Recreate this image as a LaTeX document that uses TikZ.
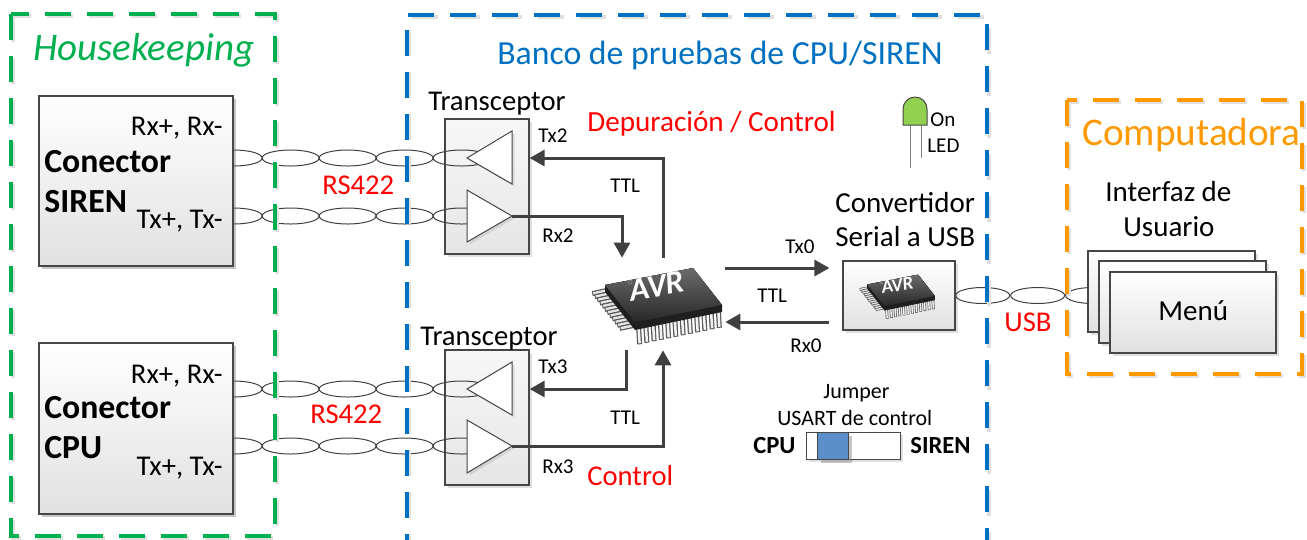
\documentclass[tikz,border=0pt]{standalone}
\usepackage{fontspec}
\setmainfont{Carlito}
\usetikzlibrary{arrows.meta,fit,shadows}

\definecolor{hkgreen}{RGB}{0,176,80}
\definecolor{benchblue}{RGB}{0,112,192}
\definecolor{pcorange}{RGB}{255,153,0}
\definecolor{wire}{RGB}{64,64,64}
\definecolor{edgegray}{RGB}{70,70,70}
\definecolor{sliderblue}{RGB}{91,143,201}
\definecolor{ledgreen}{RGB}{146,208,80}
\definecolor{signalred}{RGB}{255,0,0}

\newcommand\fs[1]{\fontsize{#1}{#1}\selectfont}

% AVR package drawn around (0,0); #1 outer pin width, #2 inner pin width
\newcommand\avrpackage[2]{%
  \foreach \i in {0,...,11}{
    \pgfmathsetmacro\t{(\i+0.5)/12}
    \draw[black!65, line width=#1] ({-25+87*\t},{24-18*\t}) -- ++(1,17);
    \draw[black!5, line width=#2] ({-25+87*\t},{25-18*\t}) -- ++(1,15);
    \draw[black!65, line width=#1] ({-55+30*\t},{-15+38*\t}) -- ++(-14,3);
    \draw[black!10, line width=#2] ({-55+30*\t},{-15+38*\t}) -- ++(-13,2.8);
  }
  \fill[black!88] (-55,-19) -- (33,-36) -- (62,1) -- (62,8) -- (-25,26) -- (-55,-12) -- cycle;
  \fill[top color=black!58, bottom color=black!85] (-55,-19) -- (33,-36) -- (62,1) -- (-25,19) -- cycle;
  \draw[black!45, line width=0.01cm] (-30,-22) circle[radius=0.04cm];
  \node[text=white, font=\bfseries\itshape\fs{18.5}, rotate=10, transform shape, inner sep=0] at (-3,-18) {AVR};
}

\tikzset{
  x=0.02cm, y=-0.02cm,
  frame/.style={line width=0.07cm, dash pattern=on 0.52cm off 0.32cm},
  panel/.style={draw=edgegray, line width=0.025cm, top color=white, bottom color=black!12, inner sep=0pt,
    drop shadow={shadow xshift=0.05cm, shadow yshift=-0.05cm, opacity=0.25}},
  xcvrbox/.style={panel, top color=black!3, bottom color=black!10},
  buffer/.style={draw=edgegray, line width=0.02cm, fill=white,
    drop shadow={shadow xshift=0.05cm, shadow yshift=-0.05cm, opacity=0.2}},
  cable/.style={draw=wire, line width=0.02cm},
  sig/.style={draw=wire, line width=0.06cm, -{Triangle[length=0.3cm,width=0.32cm]}},
  lbl/.style={inner sep=0pt, anchor=base west},
  small/.style={lbl, font=\fs{12}},
  mid/.style={lbl, font=\fs{16.3}},
}

\begin{document}
\begin{tikzpicture}
\useasboundingbox (0,0) rectangle (1307,539);
\clip (0,0) rectangle (1307,539);

% transceiver boxes
\node[xcvrbox, fit={(445,119) (529,254)}] (xcvrA) {};
\node[xcvrbox, fit={(445,350) (529,485)}] (xcvrB) {};

% buffer tips
\coordinate (txA-tip) at (467,158);
\coordinate (rxA-tip) at (512,216);
\coordinate (txB-tip) at (467,389);
\coordinate (rxB-tip) at (512,446);

% connector and converter boxes
\node[panel, fit={(39,96) (233,266)}] (sirenbox) {};
\node[panel, fit={(39,343) (233,514)}] (cpubox) {};
\node[panel, fit={(843,261) (955,330)}] (conv) {};

% twisted pairs (RS422)
\coordinate (cabA) at (sirenbox.east |- txA-tip);
\coordinate (cabB) at (sirenbox.east |- rxA-tip);
\coordinate (cabC) at (cpubox.east |- txB-tip);
\coordinate (cabD) at (cpubox.east |- rxB-tip);
\begin{scope}
  \clip (233,0) rectangle (530,539);
  \foreach \c in {cabA,cabB,cabC,cabD}
    \foreach \k in {0,...,4}
      \draw[cable] ([xshift=\k*1.14cm]\c) ellipse [x radius=0.57cm, y radius=0.16cm];
\end{scope}

% USB cable
\coordinate (cabU) at ([xshift=0.54cm]conv.east);
\foreach \k in {0,...,2}
  \draw[cable] ([xshift=\k*1.1cm]cabU) ellipse [x radius=0.54cm, y radius=0.16cm];

% redraw boxes over the cable ends
\node[panel, fit={(39,96) (233,266)}] {};
\node[panel, fit={(39,343) (233,514)}] {};

% line drivers and receivers
\filldraw[buffer] (512,131) -- (txA-tip) -- (512,184) -- cycle;
\filldraw[buffer] (467,190) -- (rxA-tip) -- (467,242) -- cycle;
\filldraw[buffer] (512,362) -- (txB-tip) -- (512,415) -- cycle;
\filldraw[buffer] (467,420) -- (rxB-tip) -- (467,473) -- cycle;

% user interface stack
\node[panel, fit={(1088,251) (1255,332)}] (menu3) {};
\node[panel, fit={(1099,261) (1266,343)}] (menu2) {};
\node[panel, fit={(1110,272) (1276,353)}] (menu1) {};

% microcontroller
\node[inner sep=0pt, fit={(595,258) (725,350)}] (avr) {};
\begin{scope}[shift={(avr.center)}]
  \avrpackage{0.1cm}{0.05cm}
\end{scope}
\begin{scope}[shift={(conv.center)}, scale=0.58]
  \avrpackage{0.055cm}{0.028cm}
\end{scope}

% TTL signals
\draw[sig] ([xshift=0.06cm]avr.north) |- (xcvrA.east |- txA-tip);
\draw[sig] (rxA-tip) -| ([xshift=-0.76cm]avr.north);
\draw[sig] ([xshift=-0.68cm]avr.south) |- (xcvrB.east |- txB-tip);
\draw[sig] (rxB-tip) -| ([xshift=0.06cm]avr.south);
\coordinate (tx0s) at ([yshift=0.72cm]avr.east);
\coordinate (rx0e) at ([yshift=-0.36cm]avr.east);
\draw[sig, shorten >=0.26cm] (tx0s) -- (tx0s -| conv.west);
\draw[sig, shorten <=0.26cm] (rx0e -| conv.west) -- (rx0e);

% power LED
\coordinate (led) at (915,109);
\draw[black!50, line width=0.02cm] (910,124) -- (910,168) (921,124) -- (921,158);
\filldraw[fill=ledgreen, draw=edgegray, line width=0.02cm]
  (903,125) -- (903,109) arc[start angle=180, end angle=0, radius=0.24cm] -- (927,125) -- cycle;

% USART jumper
\node[draw=edgegray, line width=0.02cm, fill=white, inner sep=0pt, fit={(806,432) (900,459)},
  drop shadow={shadow xshift=0.05cm, shadow yshift=-0.05cm, opacity=0.25}] (jumper) {};
\node[draw=edgegray, line width=0.02cm, fill=sliderblue, inner sep=0pt, fit={(817,432) (848,459)},
  drop shadow={shadow xshift=0.08cm, shadow yshift=-0.08cm, opacity=0.45}] (slider) {};

% region frames
\draw[frame, black!12] (13,16) rectangle (277,538);
\draw[frame, hkgreen] (11,14) rectangle (275,536);
\draw[frame, black!12] (409,560) -- (409,17) -- (989,17) -- (989,560);
\draw[frame, benchblue] (407,560) -- (407,15) -- (987,15) -- (987,560);
\draw[frame, black!12] (1069,102) rectangle (1304,376);
\draw[frame, pcorange] (1067,100) rectangle (1302,374);

% titles
\node[lbl, font=\fs{22.2}\itshape, text=hkgreen] (hk) at (33,60) {Housekeeping};
\node[lbl, font=\fs{19.2}, text=benchblue] (bench) at (497,64) {Banco de pruebas de CPU/SIREN};
\node[lbl, font=\fs{22.3}, text=pcorange] (pc) at (1082,145) {Computadora};

% connector labels
\node[mid, anchor=base east] (sirenRx) at (223,135) {Rx+, Rx-};
\node[lbl, font=\fs{19.2}\bfseries] (sirenN1) at (44,172) {Conector};
\node[lbl, font=\fs{19.2}\bfseries] (sirenN2) at (44,212) {SIREN};
\node[mid, anchor=base east] (sirenTx) at (223,228) {Tx+, Tx-};
\node[mid, anchor=base east] (cpuRx) at (223,383) {Rx+, Rx-};
\node[lbl, font=\fs{19.2}\bfseries] (cpuN1) at (44,418) {Conector};
\node[lbl, font=\fs{19.2}\bfseries] (cpuN2) at (44,458) {CPU};
\node[mid, anchor=base east] (cpuTx) at (223,475) {Tx+, Tx-};

% bus labels
\node[mid, text=signalred] (rsA) at (322,194) {RS422};
\node[mid, text=signalred] (rsB) at (310,423) {RS422};
\node[mid] (xcvrAlbl) at (428,110) {Transceptor};
\node[mid] (xcvrBlbl) at (420,345) {Transceptor};
\node[small] (tx2) at (538,142) {Tx2};
\node[small] (ttlA) at (610,192) {TTL};
\node[small] (rx2) at (542,242) {Rx2};
\node[small] (tx3) at (538,373) {Tx3};
\node[small] (ttlB) at (610,424) {TTL};
\node[small] (rx3) at (542,473) {Rx3};
\node[lbl, font=\fs{16.6}, text=signalred] (dbg) at (587,131) {Depuración / Control};
\node[mid, text=signalred] (ctl) at (587,485) {Control};
\node[small] (tx0) at (785,253) {Tx0};
\node[small] (ttlC) at (757,302) {TTL};
\node[small] (rx0) at (790,352) {Rx0};
\node[small] (on) at (930,126) {On};
\node[small] (ledlbl) at (927,152) {LED};
\node[lbl, font=\fs{16.5}] (convA) at (835,212) {Convertidor};
\node[lbl, font=\fs{16.5}] (convB) at (835,246) {Serial a USB};
\node[lbl, font=\fs{16.5}] (uiA) at (1105,201) {Interfaz de};
\node[lbl, font=\fs{16.5}] (uiB) at (1123,236) {Usuario};
\node[mid, text=signalred] (usb) at (1004,331) {USB};
\node[lbl, font=\fs{16.5}] (menu) at (1158,320) {Menú};
\node[lbl, font=\fs{12.5}] (jmpA) at (823,398) {Jumper};
\node[lbl, font=\fs{12.5}] (jmpB) at (777,425) {USART de control};
\node[lbl, font=\fs{14}\bfseries] (jmpCPU) at (753,453) {CPU};
\node[lbl, font=\fs{14}\bfseries] (jmpSIREN) at (910,453) {SIREN};
\end{tikzpicture}
\end{document}
